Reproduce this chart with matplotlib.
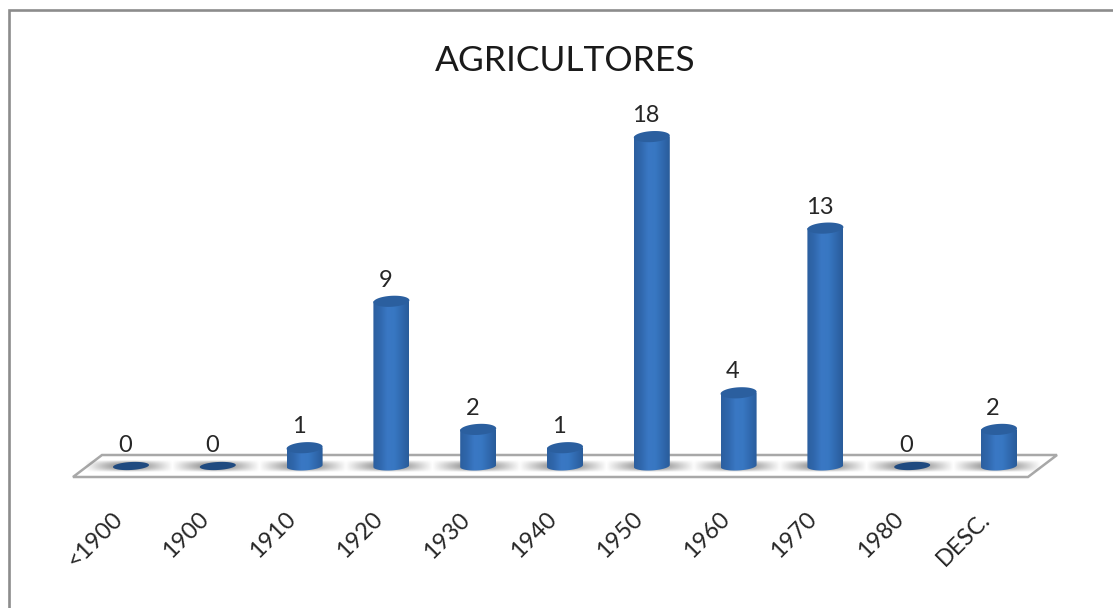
import numpy as np
import matplotlib
matplotlib.use("Agg")
import matplotlib.pyplot as plt
from matplotlib.path import Path
from matplotlib.patches import PathPatch, Polygon
from matplotlib.colors import LinearSegmentedColormap

categories = ["<1900", "1900", "1910", "1920", "1930", "1940", "1950", "1960", "1970", "1980", "DESC."]
values = [0, 0, 1, 9, 2, 1, 18, 4, 13, 0, 2]
title = "AGRICULTORES"

W, H = 1113, 608
PX_X, PX_Y = 86.8, 18.3       # pixels per category / per unit
X0, Y0 = 131, 466             # pixel position of first category on the baseline

plt.rcParams["font.family"] = ["Lato", "DejaVu Sans"]
fig = plt.figure(figsize=(W / 100, H / 100), dpi=100, facecolor="white")
ax = fig.add_axes([0, 0, 1, 1])
ax.axis("off")
xlim = (-X0 / PX_X, (W - X0) / PX_X)
ylim = ((Y0 - H) / PX_Y, Y0 / PX_Y)

def dx(p): return p / PX_X
def dy(p): return p / PX_Y
def X(p): return (p - X0) / PX_X
def Y(p): return (Y0 - p) / PX_Y

# outer frame (open on right and bottom, as cropped in the reference)
ax.plot([X(8.5), X(8.5), X(W)], [Y(H), Y(10), Y(10)], color="#8c8c8c", lw=1.9,
        solid_joinstyle="miter", zorder=1)

# floor
floor = [(X(73), Y(477)), (X(1028), Y(477)), (X(1057), Y(455)), (X(102), Y(455))]
ax.add_patch(Polygon(floor, closed=True, facecolor="white", edgecolor="#a8a8a8", lw=1.8, zorder=2))

TILT = 1.0

def ell(xc, yc, a=18, b=5.5):
    t = np.linspace(0, 2 * np.pi, 80)
    return xc + dx(a) * np.cos(t), yc + dy(b) * np.sin(t) + dy(TILT) * np.cos(t)

body_cmap = LinearSegmentedColormap.from_list(
    "b", ["#2c5f9f", "#3068ae", "#3a78c4", "#3877c2", "#3069af", "#2a5c9a"])
grad = np.linspace(0, 1, 64).reshape(1, -1)

yy, xx = np.mgrid[-1:1:40j, -1:1:160j]
alpha = np.clip(1 - np.abs(xx) ** 1.3, 0, 1) * np.clip(1 - np.abs(yy) ** 2, 0, 1) * 0.85
shadow = np.dstack([np.full_like(xx, 0.42)] * 3 + [alpha])

for i, v in enumerate(values):
    # shadow on the floor
    ax.imshow(shadow, extent=(i - dx(46), i + dx(42), Y(472), Y(460)), aspect="auto",
              interpolation="bilinear", zorder=3)
    if v > 0:
        xt, yt = ell(i, v)
        t = np.linspace(0, np.pi, 41)
        xs = np.concatenate([[i - dx(18), i + dx(18)], i + dx(18) * np.cos(t)])
        ys = np.concatenate([[v, v], -dy(4.4) * np.sin(t) + dy(TILT) * np.cos(t)])
        im = ax.imshow(grad, extent=(i - dx(18), i + dx(18), -dy(6), v), cmap=body_cmap,
                       aspect="auto", interpolation="bilinear", zorder=4)
        clip = PathPatch(Path(np.column_stack([xs, ys])), transform=ax.transData,
                         facecolor="none", edgecolor="none")
        ax.add_patch(clip)
        im.set_clip_path(clip)
        ax.fill(xt, yt, color="#2b5f9f", zorder=5, lw=0)
    else:
        xt, yt = ell(i, 0, b=4.0)
        ax.fill(xt, yt, color="#1f4a80", zorder=5, lw=0)

    ax.annotate(str(v), xy=(i, v), xytext=(-6, 21), textcoords="offset pixels",
                ha="center", va="center", fontsize=17, color="#262626", zorder=6)
    ax.annotate(categories[i], xy=(i, 0), xytext=(-12, -50), textcoords="offset pixels",
                ha="right", va="center", rotation=45, rotation_mode="anchor",
                fontsize=17, color="#262626", zorder=6)

ax.text(X(565), Y(61), title, ha="center", va="center", fontsize=25.5, color="#1a1a1a", zorder=6)

ax.set_xlim(*xlim)
ax.set_ylim(*ylim)
fig.savefig("out.png", dpi=100, facecolor="white")
